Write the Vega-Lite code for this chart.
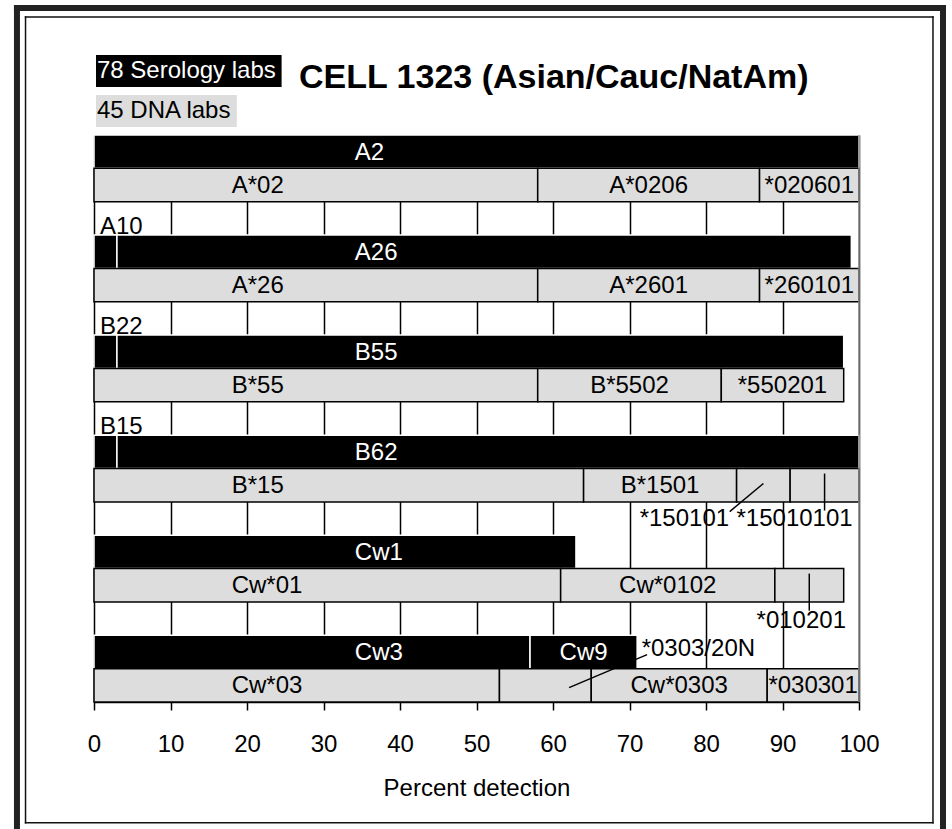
{
  "$schema": "https://vega.github.io/schema/vega-lite/v6.json",
  "width": 765,
  "height": 567,
  "autosize": {"type": "none"},
  "padding": {"left": 94, "top": 135, "right": 93, "bottom": 127},
  "background": "white",
  "config": {
    "view": {"stroke": null},
    "font": "Liberation Sans",
    "axisX": {
      "grid": true, "gridColor": "black", "gridWidth": 1.5, "gridOpacity": 1,
      "domainColor": "black", "domainWidth": 1.5,
      "tickColor": "black", "tickWidth": 1.5, "tickSize": 8,
      "labelFont": "Liberation Sans", "labelFontSize": 24, "labelColor": "black",
      "labelPadding": 22, "labelFlush": false, "labelOverlap": false,
      "titleFont": "Liberation Sans", "titleFontSize": 24, "titleFontWeight": "normal",
      "titleColor": "black", "titlePadding": 20
    }
  },
  "datasets": {
    "segments": [
      {"line": "A2 serology", "method": "78 Serology labs", "specificity": "A2", "start": 0, "end": 100},
      {"line": "A26 serology", "method": "78 Serology labs", "specificity": "A10", "start": 0, "end": 3},
      {"line": "A26 serology", "method": "78 Serology labs", "specificity": "A26", "start": 3, "end": 99},
      {"line": "B55 serology", "method": "78 Serology labs", "specificity": "B22", "start": 0, "end": 3},
      {"line": "B55 serology", "method": "78 Serology labs", "specificity": "B55", "start": 3, "end": 98},
      {"line": "B62 serology", "method": "78 Serology labs", "specificity": "B15", "start": 0, "end": 3},
      {"line": "B62 serology", "method": "78 Serology labs", "specificity": "B62", "start": 3, "end": 100},
      {"line": "Cw1 serology", "method": "78 Serology labs", "specificity": "Cw1", "start": 0, "end": 63},
      {"line": "Cw3 serology", "method": "78 Serology labs", "specificity": "Cw3", "start": 0, "end": 57},
      {"line": "Cw3 serology", "method": "78 Serology labs", "specificity": "Cw9", "start": 57, "end": 71},
      {"line": "A2 DNA", "method": "45 DNA labs", "specificity": "A*02", "start": 0, "end": 58},
      {"line": "A2 DNA", "method": "45 DNA labs", "specificity": "A*0206", "start": 58, "end": 87},
      {"line": "A2 DNA", "method": "45 DNA labs", "specificity": "*020601", "start": 87, "end": 100},
      {"line": "A26 DNA", "method": "45 DNA labs", "specificity": "A*26", "start": 0, "end": 58},
      {"line": "A26 DNA", "method": "45 DNA labs", "specificity": "A*2601", "start": 58, "end": 87},
      {"line": "A26 DNA", "method": "45 DNA labs", "specificity": "*260101", "start": 87, "end": 100},
      {"line": "B55 DNA", "method": "45 DNA labs", "specificity": "B*55", "start": 0, "end": 58},
      {"line": "B55 DNA", "method": "45 DNA labs", "specificity": "B*5502", "start": 58, "end": 82},
      {"line": "B55 DNA", "method": "45 DNA labs", "specificity": "*550201", "start": 82, "end": 98},
      {"line": "B62 DNA", "method": "45 DNA labs", "specificity": "B*15", "start": 0, "end": 64},
      {"line": "B62 DNA", "method": "45 DNA labs", "specificity": "B*1501", "start": 64, "end": 84},
      {"line": "B62 DNA", "method": "45 DNA labs", "specificity": "*150101", "start": 84, "end": 91},
      {"line": "B62 DNA", "method": "45 DNA labs", "specificity": "*15010101", "start": 91, "end": 100},
      {"line": "Cw1 DNA", "method": "45 DNA labs", "specificity": "Cw*01", "start": 0, "end": 61},
      {"line": "Cw1 DNA", "method": "45 DNA labs", "specificity": "Cw*0102", "start": 61, "end": 89},
      {"line": "Cw1 DNA", "method": "45 DNA labs", "specificity": "*010201", "start": 89, "end": 98},
      {"line": "Cw3 DNA", "method": "45 DNA labs", "specificity": "Cw*03", "start": 0, "end": 53},
      {"line": "Cw3 DNA", "method": "45 DNA labs", "specificity": "*0303/20N", "start": 53, "end": 65},
      {"line": "Cw3 DNA", "method": "45 DNA labs", "specificity": "Cw*0303", "start": 65, "end": 88},
      {"line": "Cw3 DNA", "method": "45 DNA labs", "specificity": "*030301", "start": 88, "end": 100}
    ]
  },
  "data": {"name": "segments"},
  "layer": [
    {
      "mark": {"type": "bar", "strokeWidth": 1.5},
      "encoding": {
        "x": {
          "field": "start", "type": "quantitative",
          "scale": {"domain": [0, 100], "nice": false},
          "axis": {"title": "Percent detection", "tickCount": 10}
        },
        "x2": {"field": "end"},
        "y": {
          "field": "line", "type": "nominal",
          "scale": {
            "domain": ["A2 serology", "A2 DNA", "gap 1", "A26 serology", "A26 DNA", "gap 2", "B55 serology", "B55 DNA", "gap 3", "B62 serology", "B62 DNA", "gap 4", "Cw1 serology", "Cw1 DNA", "gap 5", "Cw3 serology", "Cw3 DNA"],
            "paddingInner": 0, "paddingOuter": 0
          },
          "axis": null
        },
        "fill": {
          "field": "method", "type": "nominal",
          "scale": {"domain": ["78 Serology labs", "45 DNA labs"], "range": ["black", "#dddddd"]},
          "legend": {
            "orient": "none", "legendX": 2, "legendY": -80, "title": null, "direction": "vertical",
            "symbolSize": 1024, "symbolStrokeWidth": 0, "symbolOpacity": 1,
            "labelFont": "Liberation Sans", "labelFontSize": 24, "labelOffset": -31, "labelLimit": 400,
            "labelBaseline": "middle", "rowPadding": 8, "padding": 0,
            "encode": {
              "symbols": {"update": {"shape": {"signal": "datum.value === '78 Serology labs' ? 'M-1,-1H10.6V1H-1Z' : 'M-1,-1H7.8V1H-1Z'"}}},
              "labels": {"update": {"fill": {"signal": "datum.value === '78 Serology labs' ? 'white' : 'black'"}}}
            }
          }
        },
        "stroke": {
          "field": "method", "type": "nominal",
          "scale": {"domain": ["78 Serology labs", "45 DNA labs"], "range": ["white", "black"]},
          "legend": null
        }
      }
    },
    {
      "transform": [
        {"filter": {"field": "specificity", "oneOf": ["*150101", "*15010101", "*010201", "*0303/20N"]}},
        {"fold": ["start", "end"], "as": ["edge", "pos"]},
        {"aggregate": [{"op": "mean", "field": "pos", "as": "mid"}], "groupby": ["line", "method", "specificity"]}
      ],
      "layer": [
        {
          "transform": [{"filter": "datum.specificity === '*150101'"}],
          "mark": {"type": "rule", "color": "black", "strokeWidth": 1.5},
          "encoding": {
            "x": {"field": "mid", "type": "quantitative"},
            "x2": {"datum": 83.1},
            "y": {"field": "line", "type": "nominal", "bandPosition": 0.45},
            "y2": {"field": "line", "bandPosition": 1.29}
          }
        },
        {
          "transform": [{"filter": {"field": "specificity", "oneOf": ["*15010101", "*010201"]}}],
          "mark": {"type": "rule", "color": "black", "strokeWidth": 1.5},
          "encoding": {
            "x": {"field": "mid", "type": "quantitative"},
            "y": {"field": "line", "type": "nominal", "bandPosition": 0.15},
            "y2": {"field": "line", "bandPosition": 1.26}
          }
        },
        {
          "transform": [{"filter": "datum.specificity === '*0303/20N'"}],
          "mark": {"type": "rule", "color": "black", "strokeWidth": 1.5},
          "encoding": {
            "x": {"datum": 62.1, "type": "quantitative"},
            "x2": {"datum": 72.3},
            "y": {"field": "line", "type": "nominal", "bandPosition": 0.57},
            "y2": {"field": "line", "bandPosition": -0.42}
          }
        },
        {
          "transform": [{"filter": "datum.specificity === '*150101'"}],
          "mark": {"type": "text", "font": "Liberation Sans", "fontSize": 24, "align": "center", "baseline": "alphabetic", "dx": -79, "color": "black"},
          "encoding": {
            "x": {"field": "mid", "type": "quantitative"},
            "y": {"field": "line", "type": "nominal", "bandPosition": 1.71},
            "text": {"field": "specificity"}
          }
        },
        {
          "transform": [{"filter": "datum.specificity === '*15010101'"}],
          "mark": {"type": "text", "font": "Liberation Sans", "fontSize": 24, "align": "center", "baseline": "alphabetic", "dx": -30, "color": "black"},
          "encoding": {
            "x": {"field": "mid", "type": "quantitative"},
            "y": {"field": "line", "type": "nominal", "bandPosition": 1.71},
            "text": {"field": "specificity"}
          }
        },
        {
          "transform": [{"filter": "datum.specificity === '*010201'"}],
          "mark": {"type": "text", "font": "Liberation Sans", "fontSize": 24, "align": "center", "baseline": "alphabetic", "dx": -8, "color": "black"},
          "encoding": {
            "x": {"field": "mid", "type": "quantitative"},
            "y": {"field": "line", "type": "nominal", "bandPosition": 1.77},
            "text": {"field": "specificity"}
          }
        },
        {
          "transform": [{"filter": "datum.specificity === '*0303/20N'"}],
          "mark": {"type": "text", "font": "Liberation Sans", "fontSize": 24, "align": "center", "baseline": "alphabetic", "dx": 153, "color": "black"},
          "encoding": {
            "x": {"field": "mid", "type": "quantitative"},
            "y": {"field": "line", "type": "nominal", "bandPosition": -0.39},
            "text": {"field": "specificity"}
          }
        }
      ]
    },
    {
      "transform": [{"filter": {"field": "specificity", "oneOf": ["A2", "A26", "B55", "B62", "Cw1", "Cw3"]}}],
      "mark": {"type": "text", "font": "Liberation Sans", "fontSize": 24, "align": "left", "baseline": "middle", "dy": 1, "color": "white"},
      "encoding": {
        "x": {"datum": 34.1, "type": "quantitative"},
        "y": {"field": "line", "type": "nominal"},
        "text": {"field": "specificity"}
      }
    },
    {
      "transform": [{"filter": {"field": "specificity", "oneOf": ["A*02", "A*26", "B*55", "B*15", "Cw*01", "Cw*03"]}}],
      "mark": {"type": "text", "font": "Liberation Sans", "fontSize": 24, "align": "left", "baseline": "middle", "dy": 1, "color": "black"},
      "encoding": {
        "x": {"datum": 18.0, "type": "quantitative"},
        "y": {"field": "line", "type": "nominal"},
        "text": {"field": "specificity"}
      }
    },
    {
      "transform": [{"filter": {"field": "specificity", "oneOf": ["A10", "B22", "B15"]}}],
      "mark": {"type": "text", "font": "Liberation Sans", "fontSize": 24, "align": "left", "baseline": "alphabetic", "dx": 6, "dy": -1, "color": "black"},
      "encoding": {
        "x": {"field": "start", "type": "quantitative"},
        "y": {"field": "line", "type": "nominal", "bandPosition": 0},
        "text": {"field": "specificity"}
      }
    },
    {
      "transform": [
        {"filter": {"field": "specificity", "oneOf": ["A*0206", "*020601", "A*2601", "*260101", "B*5502", "*550201", "B*1501", "Cw*0102", "Cw9", "Cw*0303", "*030301"]}},
        {"fold": ["start", "end"], "as": ["edge", "pos"]},
        {"aggregate": [{"op": "mean", "field": "pos", "as": "mid"}], "groupby": ["line", "method", "specificity"]}
      ],
      "mark": {"type": "text", "font": "Liberation Sans", "fontSize": 24, "align": "center", "baseline": "middle", "dy": 1},
      "encoding": {
        "x": {"field": "mid", "type": "quantitative"},
        "y": {"field": "line", "type": "nominal"},
        "text": {"field": "specificity"},
        "color": {"condition": {"test": "datum.method === '78 Serology labs'", "value": "white"}, "value": "black"}
      }
    },
    {
      "data": {"values": [{}]},
      "layer": [
        {
          "mark": {"type": "rule", "color": "#8c8c8c", "strokeWidth": 1.5},
          "encoding": {
            "x": {"datum": 100, "type": "quantitative"},
            "y": {"datum": "A2 serology", "type": "nominal", "bandPosition": 0},
            "y2": {"datum": "Cw3 DNA", "bandPosition": 1}
          }
        },
        {
          "mark": {"type": "text", "text": "CELL 1323 (Asian/Cauc/NatAm)", "font": "Liberation Sans", "fontSize": 34, "fontWeight": "bold", "align": "left", "baseline": "alphabetic", "color": "black"},
          "encoding": {
            "x": {"datum": 26.8, "type": "quantitative"},
            "y": {"datum": "A2 serology", "type": "nominal", "bandPosition": -1.409}
          }
        },
        {
          "mark": {"type": "rule", "color": "#222222", "strokeWidth": 6, "strokeCap": "square"},
          "encoding": {
            "x": {"datum": -10.07, "type": "quantitative"},
            "x2": {"datum": 110.98},
            "y": {"datum": "A2 serology", "type": "nominal", "bandPosition": -3.808}
          }
        },
        {
          "mark": {"type": "rule", "color": "#222222", "strokeWidth": 6, "strokeCap": "square"},
          "encoding": {
            "x": {"datum": -10.07, "type": "quantitative"},
            "y": {"datum": "A2 serology", "type": "nominal", "bandPosition": -3.808},
            "y2": {"datum": "Cw3 DNA", "bandPosition": 5.2}
          }
        },
        {
          "mark": {"type": "rule", "color": "#222222", "strokeWidth": 6, "strokeCap": "square"},
          "encoding": {
            "x": {"datum": 110.98, "type": "quantitative"},
            "y": {"datum": "A2 serology", "type": "nominal", "bandPosition": -3.808},
            "y2": {"datum": "Cw3 DNA", "bandPosition": 5.2}
          }
        },
        {
          "mark": {"type": "rule", "color": "#111111", "strokeWidth": 1.5, "strokeCap": "square"},
          "encoding": {
            "x": {"datum": -8.95, "type": "quantitative"},
            "x2": {"datum": 109.67},
            "y": {"datum": "A2 serology", "type": "nominal", "bandPosition": -3.538}
          }
        },
        {
          "mark": {"type": "rule", "color": "#111111", "strokeWidth": 1.5, "strokeCap": "square"},
          "encoding": {
            "x": {"datum": -8.95, "type": "quantitative"},
            "x2": {"datum": 109.67},
            "y": {"datum": "Cw3 DNA", "type": "nominal", "bandPosition": 4.617}
          }
        },
        {
          "mark": {"type": "rule", "color": "#111111", "strokeWidth": 1.5, "strokeCap": "square"},
          "encoding": {
            "x": {"datum": -8.95, "type": "quantitative"},
            "y": {"datum": "A2 serology", "type": "nominal", "bandPosition": -3.538},
            "y2": {"datum": "Cw3 DNA", "bandPosition": 4.617}
          }
        },
        {
          "mark": {"type": "rule", "color": "#111111", "strokeWidth": 1.5, "strokeCap": "square"},
          "encoding": {
            "x": {"datum": 109.67, "type": "quantitative"},
            "y": {"datum": "A2 serology", "type": "nominal", "bandPosition": -3.538},
            "y2": {"datum": "Cw3 DNA", "bandPosition": 4.617}
          }
        }
      ]
    }
  ]
}
